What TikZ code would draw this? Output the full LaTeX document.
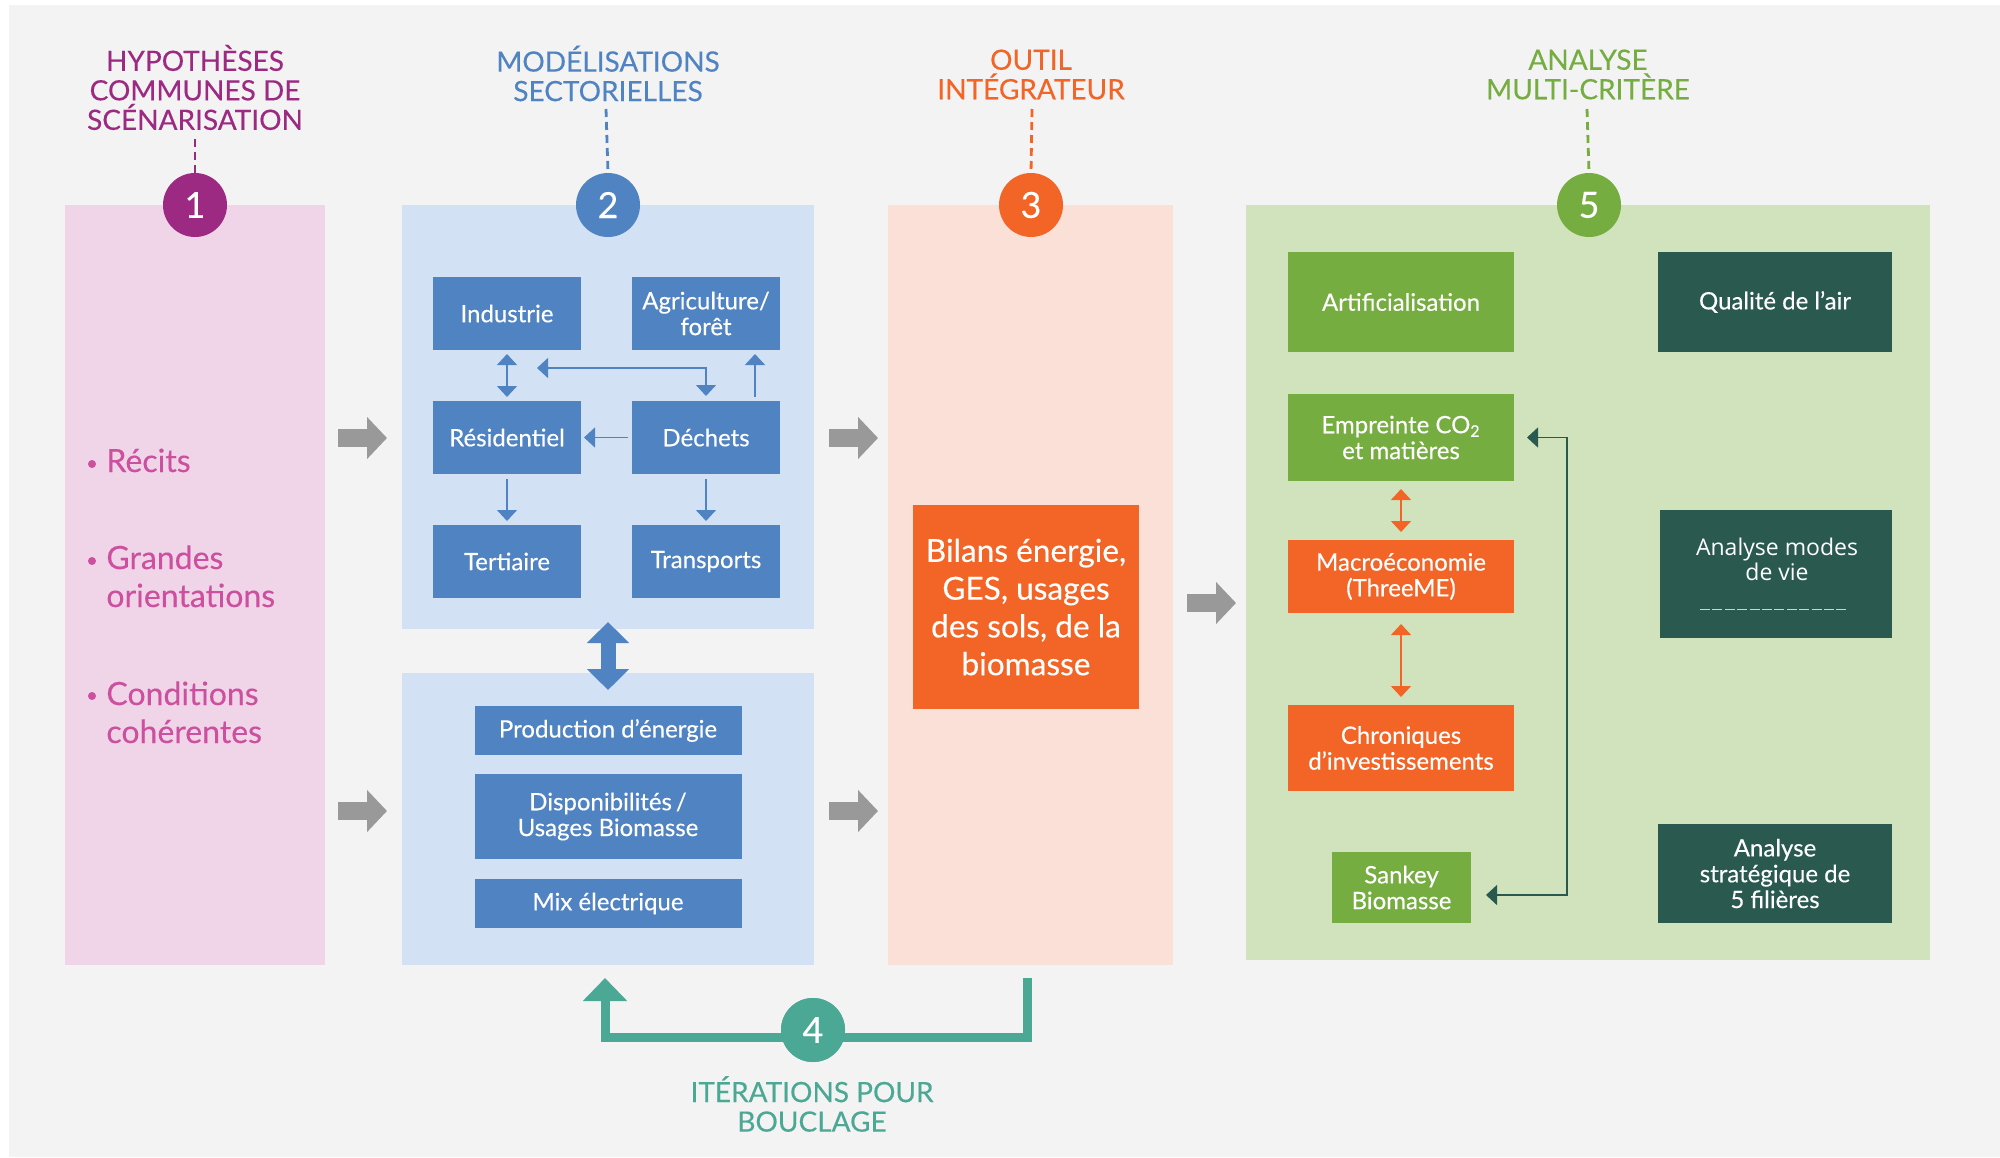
\documentclass[tikz,border=0pt]{standalone}
\usepackage{fontspec}
\setmainfont{Lato}[FakeBold=0.25]
\newfontfamily\modesfont{Open Sans}
\usetikzlibrary{arrows.meta}
\definecolor{pageback}{HTML}{F3F3F3}
\definecolor{purpleone}{HTML}{9C2A82}
\definecolor{pinkpanel}{HTML}{EFD5E7}
\definecolor{pinktext}{HTML}{CC509F}
\definecolor{bluetwo}{HTML}{5083C2}
\definecolor{bluepanel}{HTML}{D2E1F3}
\definecolor{orangethree}{HTML}{F26527}
\definecolor{orangepanel}{HTML}{FBE0D8}
\definecolor{tealfour}{HTML}{4BA894}
\definecolor{greenfive}{HTML}{76AD41}
\definecolor{greenpanel}{HTML}{D1E3BC}
\definecolor{darkfive}{HTML}{29594F}
\definecolor{greyarrow}{HTML}{999999}
\tikzset{
  sectorbox/.style={fill=bluetwo,text=white,align=center,inner sep=0pt,outer sep=0pt,
    font=\fontsize{12}{12.9}\selectfont},
  greenbox/.style={sectorbox,fill=greenfive},
  orangebox/.style={sectorbox,fill=orangethree},
  darkbox/.style={sectorbox,fill=darkfive},
  numdot/.style={circle,minimum size=32pt,inner sep=0pt,outer sep=0pt,text=white,
    font=\fontsize{18}{20}\selectfont},
  titletext/.style={align=center,inner sep=0pt,font=\fontsize{14}{14.75}\selectfont},
  listtext/.style={anchor=base west,inner sep=0pt,text=pinktext,font=\fontsize{16}{19}\selectfont},
  tickline/.style={line width=1.4pt,dash pattern=on 4pt off 2.5pt},
  smallarrow/.style={line width=.7pt,-{Triangle[length=5.5pt,width=10pt]}},
  smalltwoway/.style={line width=.7pt,{Triangle[length=5.5pt,width=10pt]}-{Triangle[length=5.5pt,width=10pt]}},
  greyflow/.style={draw=greyarrow,line width=9pt,-{Triangle[length=10pt,width=20.5pt]}},
}
\begin{document}
\begin{tikzpicture}[x=0.5pt,y=-0.5pt]%
\useasboundingbox (0,-1) rectangle (2000,1156);%
\fill[pageback] (9,4) rectangle (2000,1156);%
\fill[pinkpanel] (65,204) rectangle (325,964);%
\fill[bluepanel] (402,204) rectangle (814,628);%
\fill[bluepanel] (402,672) rectangle (814,964);%
\fill[orangepanel] (888,204) rectangle (1173,964);%
\fill[greenpanel] (1246,204) rectangle (1930,959);%
\node[titletext,text=purpleone] (titleone) at (195,86.5) {HYPOTHÈSES\\COMMUNES DE\\SCÉNARISATION};%
\node[titletext,text=bluetwo] (titletwo) at (608,72.5) {MODÉLISATIONS\\SECTORIELLES};%
\node[titletext,text=orangethree] (titlethree) at (1031,73.5) {OUTIL\\INTÉGRATEUR};%
\node[titletext,text=greenfive] (titlefive) at (1588,73.5) {ANALYSE\\MULTI-CRITÈRE};%
\node[numdot,fill=purpleone] (numone) at (195,204) {1};%
\node[numdot,fill=bluetwo] (numtwo) at (608,204) {2};%
\node[numdot,fill=orangethree] (numthree) at (1031,204) {3};%
\node[numdot,fill=tealfour] (numfour) at (813,1029) {4};%
\node[numdot,fill=greenfive] (numfive) at (1589,204) {5};%
\coordinate (tickone) at (195,138);%
\coordinate (ticktwo) at (606,108);%
\coordinate (tickthree) at (1032,108);%
\coordinate (tickfive) at (1587,108);%
\draw[tickline,draw=purpleone] (tickone) -- (numone.north);%
\draw[tickline,draw=bluetwo] (ticktwo) -- (numtwo.north);%
\draw[tickline,draw=orangethree] (tickthree) -- (numthree.north);%
\draw[tickline,draw=greenfive] (tickfive) -- (numfive.north);%
\fill[pinktext] (92,463) circle (4);%
\node[listtext] (recits) at (106,471) {Récits};%
\fill[pinktext] (92,560) circle (4);%
\node[listtext] (grandes) at (106,568) {Grandes};%
\node[listtext] (orient) at (106,606) {orientations};%
\fill[pinktext] (92,695) circle (4);%
\node[listtext] (condit) at (106,704) {Conditions};%
\node[listtext] (coher) at (106,742) {cohérentes};%
\node[sectorbox,minimum width=74pt,minimum height=36.5pt] (indus) at (507,312.5) {Industrie};%
\node[sectorbox,minimum width=74pt,minimum height=36.5pt] (agri) at (706,312.5) {Agriculture/\\forêt};%
\node[sectorbox,minimum width=74pt,minimum height=36.5pt] (resid) at (507,436.5) {Résidentiel};%
\node[sectorbox,minimum width=74pt,minimum height=36.5pt] (dechets) at (706,436.5) {Déchets};%
\node[sectorbox,minimum width=74pt,minimum height=36.5pt] (tert) at (507,560.5) {Tertiaire};%
\node[sectorbox,minimum width=74pt,minimum height=36.5pt] (transp) at (706,560.5) {Transports};%
\coordinate (crossend) at (537,367);%
\coordinate (crossturn) at (706,367);%
\coordinate (upfoot) at (755,396);%
\coordinate (uptop) at (755,353);%
\draw[smalltwoway,draw=bluetwo,shorten <=2pt,shorten >=2pt] (indus) -- (resid);%
\draw[smalltwoway,draw=bluetwo,shorten >=2.5pt] (crossend) -- (crossturn) -- (dechets.north);%
\draw[smallarrow,draw=bluetwo] (upfoot) -- (uptop);%
\draw[smallarrow,draw=bluetwo,shorten <=2pt,shorten >=1.5pt] (dechets) -- (resid);%
\draw[smallarrow,draw=bluetwo,shorten <=2.5pt,shorten >=2pt] (resid) -- (tert);%
\draw[smallarrow,draw=bluetwo,shorten <=2.5pt,shorten >=2pt] (dechets) -- (transp);%
\node[sectorbox,minimum width=133.5pt,minimum height=24.5pt] (prod) at (608,729.5) {Production d’énergie};%
\node[sectorbox,minimum width=133.5pt,minimum height=42.5pt] (dispo) at (608,815.5) {Disponibilités\,/\\Usages Biomasse};%
\node[sectorbox,minimum width=133.5pt,minimum height=24.5pt] (mix) at (608,902.5) {Mix électrique};%
\coordinate (twowaytop) at (608,621);%
\coordinate (twowaybot) at (608,689);%
\draw[draw=bluetwo,line width=7.5pt,{Triangle[length=10.5pt,width=20.5pt]}-{Triangle[length=10.5pt,width=20.5pt]}] (twowaytop) -- (twowaybot);%
\coordinate (greya) at (338,437);%
\coordinate (greyb) at (387,437);%
\coordinate (greyc) at (338,810);%
\coordinate (greyd) at (387,810);%
\coordinate (greye) at (829,437);%
\coordinate (greyf) at (878,437);%
\coordinate (greyg) at (829,810);%
\coordinate (greyh) at (878,810);%
\coordinate (greyi) at (1187,602);%
\coordinate (greyj) at (1236,602);%
\draw[greyflow] (greya) -- (greyb);%
\draw[greyflow] (greyc) -- (greyd);%
\draw[greyflow] (greye) -- (greyf);%
\draw[greyflow] (greyg) -- (greyh);%
\draw[greyflow] (greyi) -- (greyj);%
\node[orangebox,minimum width=113pt,minimum height=102pt,font=\fontsize{15.8}{18.9}\selectfont] (bilans) at (1026,606) {Bilans énergie,\\GES, usages\\des sols, de la\\biomasse};%
\coordinate (loopstart) at (1027,977);%
\coordinate (loopright) at (1027,1036);%
\coordinate (loopleft) at (605,1036);%
\coordinate (loopend) at (605,977);%
\draw[draw=tealfour,line width=4.5pt,-{Triangle[length=11.5pt,width=21.5pt]}] (loopstart) -- (loopright) -- (loopleft) -- (loopend);%
\node[numdot,fill=tealfour] at (numfour) {4};%
\node[titletext,text=tealfour] (titlefour) at (812,1103) {ITÉRATIONS POUR\\BOUCLAGE};%
\node[greenbox,minimum width=113pt,minimum height=50pt] (artif) at (1401,301) {Artificialisation};%
\node[greenbox,minimum width=113pt,minimum height=43.5pt] (empr) at (1401,436.5) {Empreinte CO\textsubscript{2}\\et matières};%
\node[orangebox,minimum width=113pt,minimum height=36.5pt] (macro) at (1401,575.5) {Macroéconomie\\(ThreeME)};%
\node[orangebox,minimum width=113pt,minimum height=43pt] (chron) at (1401,747) {Chroniques\\d’investissements};%
\node[greenbox,minimum width=69.5pt,minimum height=35.5pt] (sankey) at (1401.5,886.5) {Sankey\\Biomasse};%
\node[darkbox,minimum width=117pt,minimum height=50pt] (qualite) at (1775,301) {Qualité de l’air};%
\node[darkbox,minimum width=116pt,minimum height=64pt] (modes) at (1775.5,573) {};%
\node[text=white,align=center,inner sep=0pt,font=\modesfont\fontsize{11.5}{12.6}\selectfont] (modestext) at (1777,558) {Analyse modes\\de vie};%
\draw[white,line width=.6pt,dash pattern=on 5pt off 1.2pt,opacity=.75] (1700,608.5) -- (1848,608.5);%
\node[darkbox,minimum width=117pt,minimum height=49.5pt] (strat) at (1775,872.5) {Analyse\\stratégique de\\5 filières};%
\draw[smalltwoway,draw=orangethree,shorten <=4pt,shorten >=4pt] (empr) -- (macro);%
\draw[smalltwoway,draw=orangethree,shorten <=5.5pt,shorten >=4pt] (macro) -- (chron);%
\coordinate (riser) at (1567,894);%
\coordinate (sankport) at (1486,894);%
\draw[smalltwoway,draw=darkfive,shorten >=6.5pt] (sankport) -- (riser) -- (riser |- empr.east) -- (empr.east);%
\end{tikzpicture}%
\end{document}
